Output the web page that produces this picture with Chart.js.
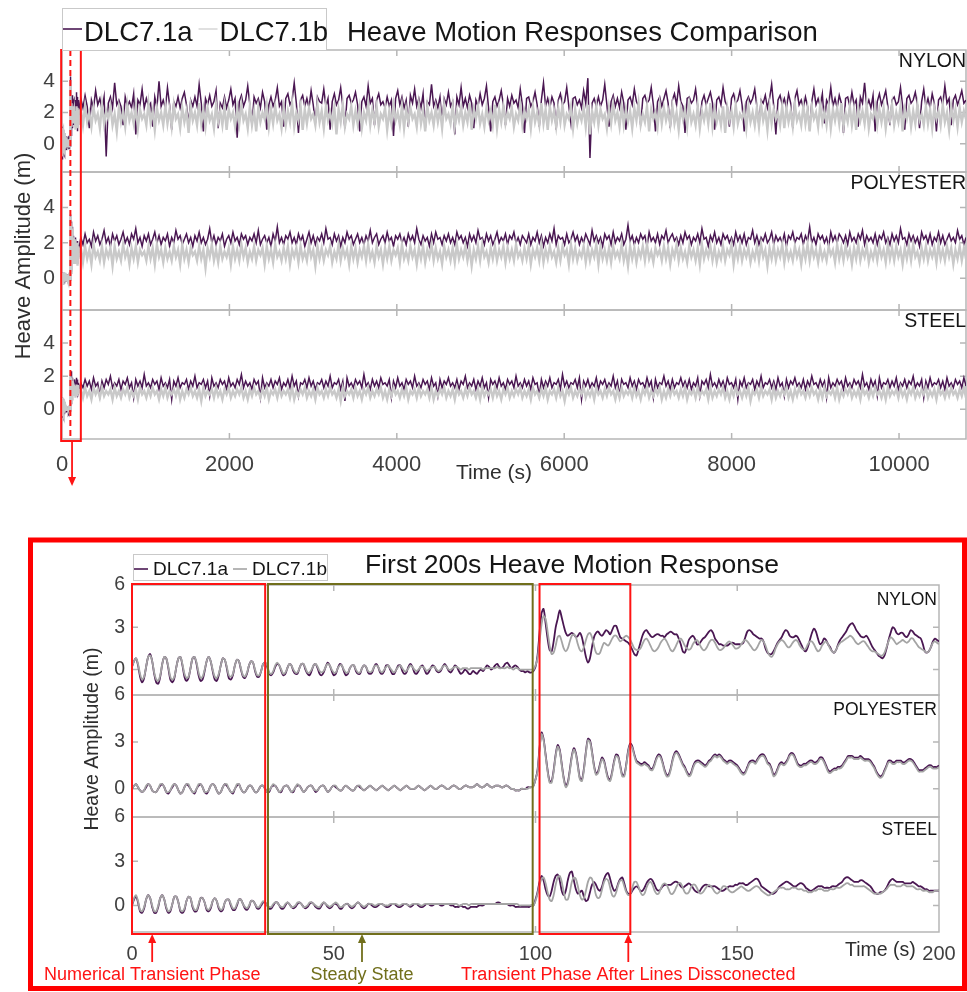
<!DOCTYPE html>
<html>
<head>
<meta charset="utf-8">
<title>Heave Motion Responses Comparison</title>
<script src="https://cdn.jsdelivr.net/npm/chart.js@4.4.1/dist/chart.umd.min.js"></script>
<style>
  html, body { margin: 0; padding: 0; background: #fff; }
  body { width: 967px; height: 992px; position: relative; overflow: hidden; }
  canvas { position: absolute; left: 0; }
  #longChart { top: 0; }
  #zoomChart { top: 530px; }
</style>
</head>
<body>
<canvas id="longChart" width="967" height="500"></canvas>
<canvas id="zoomChart" width="967" height="462"></canvas>
<script>
// ---------------------------------------------------------------------------
// Heave amplitude (m). First 200 s sampled every 0.5 s, split at t = 100 s.
// "_EARLY" = t 0 .. 100 s (201 samples), "_LATE" = t 100.5 .. 200 s (200 samples)
// ---------------------------------------------------------------------------
const MATERIALS = ['NYLON', 'POLYESTER', 'STEEL'];
const CASES = ['DLC7.1a', 'DLC7.1b'];

const NYLON_A_EARLY = [
  0.2, 0.6, 0.8, 0.3, -0.5, -0.9, -0.6, 0.2, 0.9, 1.1,
  0.6, -0.3, -0.9, -1.0, -0.5, 0.4, 0.9, 0.8, 0.1, -0.7,
  -0.9, -0.6, 0.2, 0.8, 0.9, 0.3, -0.5, -0.8, -0.6, 0.1,
  0.8, 0.9, 0.4, -0.4, -0.8, -0.7, -0.1, 0.6, 0.9, 0.6,
  -0.1, -0.7, -0.8, -0.4, 0.3, 0.8, 0.7, 0.1, -0.6, -0.7,
  -0.4, 0.3, 0.7, 0.6, 0.0, -0.5, -0.6, -0.3, 0.3, 0.6,
  0.5, -0.1, -0.5, -0.5, -0.1, 0.4, 0.5, 0.2, -0.3, -0.4,
  -0.2, 0.2, 0.4, 0.3, -0.1, -0.4, -0.3, 0.1, 0.4, 0.3,
  -0.1, -0.3, -0.3, 0.1, 0.4, 0.4, 0.0, -0.3, -0.4, -0.1,
  0.3, 0.4, 0.1, -0.3, -0.4, -0.2, 0.2, 0.5, 0.3, -0.1,
  -0.4, -0.3, 0.1, 0.4, 0.3, -0.1, -0.4, -0.3, 0.1, 0.3,
  0.3, -0.1, -0.3, -0.3, 0.1, 0.3, 0.2, -0.2, -0.3, -0.2,
  0.2, 0.4, 0.2, -0.2, -0.3, -0.1, 0.3, 0.3, 0.0, -0.3,
  -0.3, 0.0, 0.3, 0.3, -0.1, -0.3, -0.2, 0.2, 0.4, 0.2,
  -0.2, -0.3, -0.1, 0.2, 0.3, 0.0, -0.3, -0.2, 0.1, 0.3,
  0.2, -0.1, -0.2, -0.1, 0.2, 0.4, 0.2, -0.1, -0.2, 0.0,
  0.3, 0.2, -0.1, -0.3, -0.2, 0.0, -0.1, -0.3, -0.3, -0.1,
  -0.2, -0.3, -0.1, 0.0, -0.1, 0.1, 0.3, 0.2, 0.0, 0.1,
  0.3, 0.4, 0.2, 0.1, 0.2, 0.4, 0.5, 0.3, 0.1, 0.2,
  0.3, 0.2, 0.0, -0.1, -0.1, -0.2, -0.1, -0.2, -0.2, -0.1,
  0.2
];
const NYLON_A_LATE = [
  1.0, 2.6, 4.0, 4.3, 3.3, 2.2, 1.4, 1.3, 2.0, 3.0,
  3.6, 4.2, 3.7, 3.1, 2.6, 2.4, 2.5, 2.6, 2.5, 2.3,
  2.4, 2.6, 2.3, 1.6, 0.9, 0.5, 0.8, 1.6, 2.3, 2.6,
  2.7, 2.5, 2.4, 2.6, 2.8, 2.7, 2.5, 2.8, 3.1, 3.1,
  2.7, 2.3, 2.2, 2.1, 2.0, 1.9, 1.7, 1.4, 1.1, 1.0,
  1.4, 1.9, 2.4, 2.7, 2.8, 2.6, 2.4, 2.3, 2.4, 2.5,
  2.5, 2.4, 2.4, 2.3, 2.5, 2.6, 2.7, 2.6, 2.5, 2.5,
  2.2, 1.8, 1.3, 1.2, 1.6, 2.1, 2.3, 2.4, 2.2, 1.8,
  1.8, 2.0, 2.2, 2.3, 2.5, 2.7, 2.8, 2.6, 2.2, 2.0,
  1.8, 1.8, 1.7, 1.7, 1.7, 1.8, 1.9, 1.9, 1.8, 1.8,
  1.8, 1.8, 1.9, 2.3, 2.7, 2.8, 2.7, 2.5, 2.4, 2.3,
  2.2, 2.2, 2.0, 1.5, 1.2, 1.1, 1.1, 1.3, 1.6, 1.9,
  2.1, 2.3, 2.6, 2.8, 2.7, 2.4, 2.3, 2.3, 2.4, 2.3,
  2.0, 1.7, 1.4, 1.3, 1.6, 2.1, 2.6, 2.9, 2.7, 2.2,
  1.8, 1.9, 2.2, 2.1, 1.8, 1.6, 1.3, 1.2, 1.4, 1.8,
  2.1, 2.3, 2.5, 2.7, 3.0, 3.2, 3.3, 3.1, 2.8, 2.6,
  2.4, 2.3, 2.3, 2.4, 2.2, 1.9, 1.6, 1.4, 1.2, 1.0,
  0.9, 0.8, 1.0, 1.5, 2.1, 2.6, 3.0, 2.9, 2.6, 2.5,
  2.6, 2.6, 2.4, 2.3, 2.5, 2.8, 2.7, 2.5, 2.4, 2.3,
  2.2, 1.8, 1.3, 1.2, 1.3, 1.6, 2.0, 2.2, 2.1, 2.0
];
const NYLON_B_EARLY = [
  0.2, 0.6, 0.8, 0.4, -0.3, -0.7, -0.5, 0.2, 0.9, 1.0,
  0.6, -0.2, -0.7, -0.8, -0.4, 0.4, 0.9, 0.8, 0.2, -0.5,
  -0.7, -0.5, 0.2, 0.8, 0.9, 0.4, -0.3, -0.6, -0.5, 0.1,
  0.8, 0.9, 0.5, -0.2, -0.6, -0.5, 0.0, 0.6, 0.9, 0.6,
  0.0, -0.5, -0.6, -0.3, 0.3, 0.8, 0.7, 0.2, -0.4, -0.5,
  -0.3, 0.3, 0.7, 0.6, 0.1, -0.4, -0.5, -0.2, 0.3, 0.6,
  0.5, 0.0, -0.4, -0.4, -0.1, 0.4, 0.5, 0.3, -0.2, -0.3,
  -0.1, 0.3, 0.5, 0.3, 0.0, -0.3, -0.2, 0.1, 0.4, 0.3,
  0.0, -0.2, -0.2, 0.1, 0.4, 0.4, 0.1, -0.2, -0.2, 0.0,
  0.3, 0.4, 0.2, -0.1, -0.2, -0.1, 0.2, 0.4, 0.3, 0.0,
  -0.2, -0.2, 0.1, 0.3, 0.3, 0.0, -0.2, -0.2, 0.1, 0.3,
  0.3, 0.0, -0.2, -0.2, 0.1, 0.3, 0.2, -0.1, -0.2, -0.1,
  0.2, 0.3, 0.2, -0.1, -0.2, 0.0, 0.2, 0.3, 0.1, -0.1,
  -0.2, 0.0, 0.2, 0.3, 0.1, -0.1, -0.1, 0.1, 0.3, 0.2,
  0.0, -0.1, 0.0, 0.2, 0.2, 0.1, -0.1, 0.0, 0.1, 0.2,
  0.2, 0.0, -0.1, 0.0, 0.2, 0.3, 0.2, 0.0, 0.0, 0.1,
  0.2, 0.2, 0.1, 0.0, 0.1, 0.1, 0.1, 0.0, 0.1, 0.1,
  0.1, 0.1, 0.1, 0.1, 0.0, 0.1, 0.1, 0.1, 0.1, 0.1,
  0.1, 0.2, 0.1, 0.1, 0.1, 0.1, 0.2, 0.1, 0.1, 0.0,
  0.1, 0.1, 0.0, 0.0, 0.0, 0.0, 0.0, 0.0, 0.0, 0.0,
  0.3
];
const NYLON_B_LATE = [
  0.8, 2.0, 3.2, 3.8, 3.6, 2.7, 1.7, 1.1, 1.2, 1.7,
  2.3, 2.4, 2.0, 1.5, 1.3, 1.5, 2.0, 2.4, 2.5, 2.3,
  1.8, 1.4, 1.3, 1.6, 2.1, 2.5, 2.6, 2.3, 1.7, 1.2,
  1.1, 1.2, 1.6, 1.9, 1.8, 1.7, 1.9, 2.2, 2.4, 2.4,
  2.2, 2.0, 2.1, 2.3, 2.4, 2.3, 2.1, 1.8, 1.5, 1.4,
  1.4, 1.5, 1.8, 2.1, 2.2, 2.0, 1.7, 1.4, 1.3, 1.4,
  1.6, 1.9, 2.1, 2.2, 2.0, 1.7, 1.4, 1.3, 1.5, 1.8,
  2.1, 2.2, 2.0, 1.7, 1.5, 1.4, 1.5, 1.8, 2.0, 2.1,
  1.9, 1.6, 1.4, 1.4, 1.6, 1.9, 2.1, 2.1, 1.9, 1.6,
  1.4, 1.4, 1.5, 1.7, 1.9, 2.0, 1.9, 1.7, 1.5, 1.5,
  1.6, 1.8, 2.0, 2.1, 2.0, 1.8, 1.6, 1.4, 1.4, 1.6,
  1.9, 2.1, 2.0, 1.7, 1.3, 1.0, 0.9, 1.1, 1.5, 1.8,
  2.0, 2.1, 2.0, 1.8, 1.6, 1.6, 1.8, 2.0, 2.1, 2.0,
  1.7, 1.5, 1.4, 1.5, 1.8, 2.0, 2.0, 1.8, 1.5, 1.3,
  1.4, 1.7, 1.9, 2.0, 1.8, 1.5, 1.3, 1.2, 1.4, 1.7,
  1.9, 2.0, 2.1, 2.2, 2.3, 2.4, 2.3, 2.1, 1.9, 1.8,
  1.9, 2.0, 2.0, 1.8, 1.6, 1.4, 1.3, 1.3, 1.2, 1.1,
  1.0, 1.0, 1.2, 1.6, 2.0, 2.3, 2.2, 2.0, 1.8, 1.9,
  2.0, 2.1, 2.0, 1.9, 2.0, 2.2, 2.2, 2.0, 1.8, 1.6,
  1.5, 1.4, 1.3, 1.2, 1.3, 1.6, 1.9, 2.0, 1.9, 1.8
];
const POLY_A_EARLY = [
  0.0, 0.2, 0.3, 0.1, -0.1, -0.2, -0.1, 0.1, 0.3, 0.2,
  -0.1, -0.2, -0.2, 0.0, 0.2, 0.3, 0.1, -0.2, -0.3, -0.1,
  0.1, 0.3, 0.2, -0.1, -0.3, -0.2, 0.1, 0.3, 0.2, 0.0,
  -0.2, -0.3, 0.0, 0.2, 0.3, 0.1, -0.2, -0.3, -0.1, 0.2,
  0.3, 0.2, -0.1, -0.3, -0.2, 0.1, 0.3, 0.2, 0.0, -0.2,
  -0.3, 0.0, 0.2, 0.3, 0.0, -0.2, -0.2, 0.0, 0.2, 0.2,
  0.0, -0.2, -0.2, 0.0, 0.2, 0.2, 0.0, -0.2, -0.2, 0.1,
  0.2, 0.2, 0.0, -0.2, -0.2, 0.1, 0.2, 0.2, 0.0, -0.2,
  -0.2, 0.1, 0.2, 0.2, 0.0, -0.2, -0.1, 0.1, 0.2, 0.2,
  0.0, -0.2, -0.1, 0.1, 0.2, 0.2, 0.0, -0.2, -0.1, 0.1,
  0.2, 0.1, 0.0, -0.1, -0.1, 0.1, 0.2, 0.1, 0.0, -0.1,
  -0.1, 0.1, 0.2, 0.1, 0.0, -0.1, 0.0, 0.1, 0.2, 0.1,
  0.0, -0.1, 0.0, 0.1, 0.2, 0.1, 0.0, -0.1, 0.0, 0.1,
  0.2, 0.1, 0.0, -0.1, 0.0, 0.1, 0.2, 0.1, 0.0, 0.0,
  0.0, 0.1, 0.2, 0.1, 0.0, -0.1, 0.0, 0.1, 0.2, 0.1,
  0.0, 0.0, 0.1, 0.2, 0.2, 0.1, 0.0, 0.0, 0.1, 0.2,
  0.2, 0.1, 0.0, 0.0, 0.1, 0.2, 0.2, 0.1, 0.1, 0.1,
  0.2, 0.3, 0.2, 0.1, 0.1, 0.2, 0.3, 0.2, 0.1, 0.1,
  0.2, 0.2, 0.2, 0.1, 0.1, 0.2, 0.2, 0.1, 0.0, 0.0,
  -0.1, -0.1, -0.1, 0.0, 0.0, 0.0, 0.1, 0.1, 0.1, 0.2,
  0.6
];
const POLY_A_LATE = [
  1.2, 2.6, 3.6, 3.2, 2.2, 1.2, 0.5, 0.5, 1.2, 2.2,
  2.8, 2.5, 1.6, 0.7, 0.2, 0.4, 1.2, 2.1, 2.6, 2.3,
  1.5, 0.7, 0.6, 1.3, 2.4, 3.2, 3.1, 2.4, 1.5, 1.0,
  1.1, 1.6, 2.0, 1.8, 1.2, 0.7, 0.6, 1.1, 1.8, 2.2,
  2.1, 1.5, 0.9, 0.9, 1.6, 2.5, 2.9, 2.7, 2.2, 1.8,
  1.7, 1.6, 1.6, 1.7, 1.6, 1.5, 1.3, 1.3, 1.6, 2.0,
  2.2, 2.1, 1.7, 1.2, 0.9, 0.9, 1.3, 1.9, 2.3, 2.4,
  2.2, 1.9, 1.6, 1.4, 1.1, 0.9, 1.0, 1.4, 1.7, 1.8,
  1.8, 1.7, 1.6, 1.5, 1.6, 1.8, 1.9, 2.1, 2.2, 2.1,
  2.2, 2.1, 1.9, 1.8, 1.7, 1.8, 1.8, 1.7, 1.6, 1.5,
  1.3, 1.1, 1.0, 1.1, 1.4, 1.7, 1.8, 1.8, 1.7, 1.9,
  2.1, 2.2, 2.2, 2.0, 1.7, 1.6, 1.3, 0.9, 1.0, 1.3,
  1.6, 1.7, 1.6, 1.7, 1.9, 2.2, 2.3, 2.2, 1.9, 1.6,
  1.5, 1.5, 1.6, 1.6, 1.7, 1.8, 1.8, 1.7, 1.7, 1.8,
  2.0, 2.0, 1.8, 1.5, 1.2, 1.1, 1.2, 1.3, 1.3, 1.4,
  1.4, 1.5, 1.7, 1.9, 2.1, 2.1, 2.1, 2.0, 2.0, 2.0,
  2.1, 2.0, 1.9, 1.9, 1.9, 1.8, 1.6, 1.4, 1.1, 0.9,
  0.8, 0.9, 1.2, 1.5, 1.8, 1.8, 1.7, 1.7, 1.8, 1.8,
  1.8, 1.7, 1.7, 1.8, 1.9, 1.9, 1.8, 1.6, 1.4, 1.2,
  1.2, 1.2, 1.3, 1.4, 1.5, 1.5, 1.4, 1.4, 1.4, 1.5
];
const POLY_B_EARLY = [
  0.0, 0.2, 0.3, 0.1, -0.1, -0.2, -0.1, 0.2, 0.3, 0.2,
  -0.1, -0.2, -0.2, 0.0, 0.3, 0.3, 0.1, -0.2, -0.2, -0.1,
  0.2, 0.3, 0.2, -0.1, -0.3, -0.2, 0.1, 0.3, 0.3, 0.0,
  -0.2, -0.2, 0.0, 0.3, 0.3, 0.1, -0.2, -0.2, -0.1, 0.2,
  0.3, 0.2, -0.1, -0.3, -0.2, 0.1, 0.3, 0.3, 0.0, -0.2,
  -0.2, 0.0, 0.3, 0.3, 0.0, -0.2, -0.2, 0.0, 0.2, 0.2,
  0.0, -0.2, -0.2, 0.0, 0.2, 0.2, 0.0, -0.2, -0.1, 0.1,
  0.3, 0.2, 0.0, -0.2, -0.1, 0.1, 0.2, 0.2, 0.0, -0.2,
  -0.1, 0.1, 0.3, 0.2, 0.0, -0.2, -0.1, 0.1, 0.2, 0.2,
  0.0, -0.1, -0.1, 0.1, 0.2, 0.2, 0.0, -0.2, -0.1, 0.1,
  0.2, 0.2, 0.0, -0.1, -0.1, 0.1, 0.2, 0.1, 0.0, -0.1,
  -0.1, 0.1, 0.2, 0.2, 0.0, -0.1, 0.0, 0.1, 0.2, 0.1,
  0.0, -0.1, 0.0, 0.1, 0.2, 0.1, 0.0, -0.1, 0.0, 0.1,
  0.2, 0.1, 0.0, -0.1, 0.0, 0.1, 0.2, 0.1, 0.0, 0.0,
  0.0, 0.1, 0.2, 0.1, 0.0, -0.1, 0.0, 0.1, 0.2, 0.1,
  0.0, 0.0, 0.1, 0.2, 0.2, 0.1, 0.0, 0.0, 0.1, 0.2,
  0.2, 0.1, 0.0, 0.0, 0.1, 0.2, 0.2, 0.1, 0.1, 0.1,
  0.2, 0.3, 0.2, 0.1, 0.1, 0.2, 0.3, 0.2, 0.1, 0.1,
  0.2, 0.2, 0.2, 0.1, 0.1, 0.2, 0.2, 0.1, 0.0, 0.0,
  -0.1, -0.1, -0.1, 0.0, 0.0, 0.0, 0.0, 0.1, 0.1, 0.2,
  0.6
];
const POLY_B_LATE = [
  1.1, 2.5, 3.5, 3.1, 2.1, 1.1, 0.4, 0.4, 1.1, 2.1,
  2.7, 2.4, 1.5, 0.6, 0.1, 0.3, 1.1, 2.0, 2.5, 2.2,
  1.4, 0.6, 0.5, 1.2, 2.3, 3.1, 3.0, 2.3, 1.4, 0.9,
  1.0, 1.5, 1.9, 1.7, 1.1, 0.6, 0.5, 1.0, 1.7, 2.1,
  2.0, 1.4, 0.8, 0.8, 1.5, 2.4, 2.8, 2.6, 2.1, 1.7,
  1.6, 1.5, 1.5, 1.6, 1.5, 1.4, 1.2, 1.2, 1.5, 1.9,
  2.1, 2.0, 1.6, 1.1, 0.8, 0.8, 1.2, 1.8, 2.2, 2.3,
  2.1, 1.8, 1.5, 1.3, 1.0, 0.8, 0.9, 1.3, 1.6, 1.7,
  1.7, 1.6, 1.5, 1.4, 1.5, 1.7, 1.8, 2.0, 2.1, 2.0,
  2.1, 2.0, 1.8, 1.7, 1.6, 1.7, 1.7, 1.6, 1.5, 1.4,
  1.2, 1.0, 0.9, 1.0, 1.3, 1.6, 1.7, 1.7, 1.6, 1.8,
  2.0, 2.1, 2.1, 1.9, 1.6, 1.5, 1.2, 0.8, 0.9, 1.2,
  1.5, 1.6, 1.5, 1.6, 1.8, 2.1, 2.2, 2.1, 1.8, 1.5,
  1.4, 1.4, 1.5, 1.5, 1.6, 1.7, 1.7, 1.6, 1.6, 1.7,
  1.9, 1.9, 1.7, 1.4, 1.1, 1.0, 1.1, 1.2, 1.2, 1.3,
  1.3, 1.4, 1.6, 1.8, 2.0, 2.0, 2.0, 1.9, 1.9, 1.9,
  2.0, 1.9, 1.8, 1.8, 1.8, 1.7, 1.5, 1.3, 1.0, 0.8,
  0.7, 0.8, 1.1, 1.4, 1.7, 1.7, 1.6, 1.6, 1.7, 1.7,
  1.7, 1.6, 1.6, 1.7, 1.8, 1.8, 1.7, 1.5, 1.3, 1.1,
  1.1, 1.1, 1.2, 1.3, 1.4, 1.4, 1.3, 1.3, 1.3, 1.4
];
const STEEL_A_EARLY = [
  0.0, 0.4, 0.6, 0.2, -0.4, -0.5, -0.2, 0.4, 0.7, 0.5,
  -0.1, -0.5, -0.5, -0.1, 0.5, 0.7, 0.4, -0.2, -0.5, -0.4,
  0.1, 0.6, 0.6, 0.2, -0.4, -0.5, -0.3, 0.3, 0.6, 0.5,
  -0.1, -0.4, -0.4, 0.0, 0.5, 0.5, 0.2, -0.3, -0.4, -0.2,
  0.3, 0.5, 0.3, -0.2, -0.4, -0.3, 0.2, 0.4, 0.4, 0.0,
  -0.3, -0.3, 0.0, 0.4, 0.4, 0.1, -0.2, -0.3, -0.1, 0.3,
  0.3, 0.1, -0.2, -0.2, 0.0, 0.2, 0.2, 0.0, -0.2, -0.2,
  0.0, 0.2, 0.2, 0.0, -0.2, -0.2, 0.0, 0.2, 0.1, -0.1,
  -0.2, -0.1, 0.1, 0.2, 0.1, -0.1, -0.2, -0.1, 0.1, 0.2,
  0.1, -0.1, -0.2, -0.2, 0.0, 0.2, 0.1, -0.1, -0.2, -0.1,
  0.1, 0.1, 0.0, -0.2, -0.2, 0.0, 0.1, 0.1, -0.1, -0.2,
  -0.1, 0.1, 0.2, 0.1, -0.1, -0.2, -0.1, 0.1, 0.1, 0.0,
  -0.1, -0.1, 0.0, 0.1, 0.1, 0.0, -0.1, -0.1, 0.0, 0.1,
  0.1, 0.0, -0.1, -0.1, 0.0, 0.1, 0.1, 0.0, -0.1, 0.0,
  0.1, 0.1, 0.0, -0.1, -0.1, 0.0, 0.1, 0.1, 0.0, 0.0,
  0.1, 0.1, 0.1, 0.0, 0.0, 0.1, 0.1, 0.1, 0.0, 0.0,
  -0.1, -0.1, -0.1, 0.0, -0.1, -0.1, -0.2, -0.2, -0.1, -0.1,
  -0.1, -0.1, 0.0, 0.0, 0.0, 0.1, 0.1, 0.1, 0.1, 0.1,
  0.1, 0.2, 0.2, 0.1, 0.1, 0.1, 0.1, 0.0, 0.0, 0.0,
  -0.1, -0.1, -0.1, -0.1, -0.1, -0.1, -0.1, -0.1, 0.0, 0.0,
  0.4
];
const STEEL_A_LATE = [
  0.9, 1.6, 2.0, 1.7, 1.1, 0.7, 0.6, 1.0, 1.6, 2.0,
  2.1, 1.7, 1.0, 0.7, 1.0, 1.7, 2.2, 2.3, 1.7, 1.1,
  0.8, 0.9, 1.0, 0.6, 0.3, 0.4, 0.9, 1.4, 1.6, 1.4,
  1.1, 1.0, 1.3, 1.8, 2.1, 2.2, 1.8, 1.3, 1.0, 1.1,
  1.5, 1.8, 1.9, 1.5, 1.0, 0.8, 0.8, 1.0, 1.2, 1.3,
  1.2, 1.0, 1.0, 1.2, 1.5, 1.7, 1.8, 1.7, 1.4, 1.1,
  1.0, 1.1, 1.3, 1.4, 1.4, 1.4, 1.4, 1.5, 1.6, 1.6,
  1.5, 1.3, 1.2, 1.3, 1.4, 1.5, 1.4, 1.2, 1.0, 0.9,
  0.9, 1.1, 1.3, 1.4, 1.4, 1.3, 1.3, 1.3, 1.3, 1.2,
  1.1, 1.0, 1.0, 1.1, 1.2, 1.3, 1.3, 1.3, 1.4, 1.4,
  1.5, 1.5, 1.5, 1.4, 1.4, 1.5, 1.6, 1.7, 1.8, 1.8,
  1.6, 1.3, 1.2, 1.1, 1.0, 0.9, 0.8, 0.8, 0.9, 1.1,
  1.3, 1.4, 1.5, 1.6, 1.6, 1.5, 1.4, 1.3, 1.3, 1.4,
  1.5, 1.5, 1.4, 1.2, 1.1, 1.0, 1.0, 1.1, 1.2, 1.3,
  1.3, 1.3, 1.2, 1.2, 1.2, 1.2, 1.3, 1.3, 1.3, 1.4,
  1.5, 1.6, 1.8, 1.9, 1.9, 1.8, 1.7, 1.6, 1.6, 1.6,
  1.7, 1.7, 1.6, 1.5, 1.4, 1.3, 1.1, 0.9, 0.8, 0.8,
  0.9, 0.9, 1.0, 1.2, 1.5, 1.7, 1.8, 1.7, 1.6, 1.6,
  1.6, 1.6, 1.5, 1.5, 1.5, 1.5, 1.6, 1.5, 1.4, 1.3,
  1.3, 1.2, 1.1, 1.1, 1.0, 1.0, 1.0, 1.0, 1.0, 1.0
];
const STEEL_B_EARLY = [
  0.0, 0.5, 0.7, 0.3, -0.3, -0.4, -0.1, 0.4, 0.7, 0.5,
  0.0, -0.4, -0.4, 0.0, 0.5, 0.7, 0.4, -0.1, -0.4, -0.3,
  0.1, 0.6, 0.6, 0.2, -0.3, -0.4, -0.2, 0.3, 0.6, 0.5,
  0.0, -0.3, -0.3, 0.1, 0.5, 0.5, 0.2, -0.2, -0.3, -0.1,
  0.3, 0.5, 0.3, -0.1, -0.3, -0.2, 0.2, 0.4, 0.4, 0.1,
  -0.2, -0.2, 0.1, 0.4, 0.4, 0.1, -0.1, -0.2, 0.0, 0.3,
  0.3, 0.1, -0.1, -0.1, 0.1, 0.3, 0.2, 0.0, -0.1, -0.1,
  0.1, 0.2, 0.2, 0.0, -0.1, -0.1, 0.1, 0.2, 0.1, -0.1,
  -0.1, 0.0, 0.2, 0.2, 0.1, -0.1, -0.1, 0.0, 0.2, 0.2,
  0.1, 0.0, -0.1, -0.1, 0.1, 0.2, 0.1, 0.0, -0.1, 0.0,
  0.1, 0.2, 0.1, -0.1, -0.1, 0.0, 0.1, 0.1, 0.0, -0.1,
  0.0, 0.1, 0.2, 0.1, 0.0, -0.1, 0.0, 0.1, 0.1, 0.1,
  0.0, 0.0, 0.1, 0.1, 0.1, 0.0, 0.0, 0.0, 0.1, 0.1,
  0.1, 0.1, 0.0, 0.0, 0.1, 0.1, 0.1, 0.0, 0.0, 0.1,
  0.1, 0.1, 0.1, 0.0, 0.0, 0.1, 0.1, 0.1, 0.1, 0.1,
  0.1, 0.1, 0.1, 0.1, 0.1, 0.1, 0.1, 0.1, 0.1, 0.1,
  0.1, 0.1, 0.0, 0.0, 0.1, 0.1, 0.1, 0.0, 0.1, 0.1,
  0.1, 0.1, 0.1, 0.1, 0.1, 0.1, 0.1, 0.1, 0.1, 0.1,
  0.1, 0.1, 0.1, 0.1, 0.1, 0.1, 0.1, 0.1, 0.1, 0.1,
  0.1, 0.1, 0.0, 0.0, 0.0, 0.0, 0.0, 0.0, 0.0, 0.0,
  0.3
];
const STEEL_B_LATE = [
  0.8, 1.4, 1.8, 1.9, 1.5, 0.9, 0.4, 0.3, 0.7, 1.4,
  1.9, 2.0, 1.6, 0.9, 0.4, 0.4, 0.9, 1.6, 1.9, 1.8,
  1.3, 0.7, 0.4, 0.5, 1.0, 1.6, 1.9, 1.8, 1.3, 0.7,
  0.5, 0.6, 1.1, 1.6, 1.8, 1.7, 1.2, 0.7, 0.6, 0.9,
  1.4, 1.7, 1.7, 1.3, 0.9, 0.7, 0.8, 1.2, 1.6, 1.6,
  1.3, 0.9, 0.7, 0.8, 1.2, 1.5, 1.6, 1.4, 1.0, 0.8,
  0.8, 1.1, 1.4, 1.5, 1.4, 1.1, 0.8, 0.8, 1.0, 1.3,
  1.5, 1.5, 1.2, 0.9, 0.8, 0.9, 1.2, 1.4, 1.4, 1.2,
  0.9, 0.8, 0.9, 1.1, 1.3, 1.4, 1.3, 1.1, 0.9, 0.8,
  0.9, 1.1, 1.3, 1.3, 1.2, 1.0, 0.9, 0.9, 1.0, 1.1,
  1.2, 1.3, 1.2, 1.1, 1.0, 1.0, 1.1, 1.2, 1.3, 1.3,
  1.2, 1.0, 0.9, 0.8, 0.7, 0.7, 0.8, 0.9, 1.0, 1.1,
  1.2, 1.2, 1.2, 1.1, 1.1, 1.1, 1.2, 1.2, 1.2, 1.1,
  1.1, 1.1, 1.0, 1.0, 0.9, 0.9, 0.9, 1.0, 1.0, 1.1,
  1.1, 1.1, 1.0, 1.0, 1.0, 1.1, 1.1, 1.1, 1.2, 1.2,
  1.2, 1.3, 1.4, 1.5, 1.5, 1.4, 1.4, 1.3, 1.3, 1.3,
  1.3, 1.3, 1.3, 1.2, 1.1, 1.0, 0.9, 0.8, 0.8, 0.8,
  0.8, 0.9, 1.0, 1.1, 1.3, 1.4, 1.4, 1.4, 1.3, 1.3,
  1.3, 1.4, 1.4, 1.3, 1.3, 1.3, 1.3, 1.2, 1.1, 1.1,
  1.1, 1.0, 1.0, 1.0, 0.9, 0.9, 0.9, 1.0, 1.0, 1.0
];

// Remainder of the 3-hour record (after 200 s), evenly spaced up to 10800 s.
const NYLON_A_LONG = [
  2.9,2.3,3.1,2.4,1.0,2.8,2.3,3.4,2.5,2.9,2.2,3.0,-0.8,2.6,3.0,2.3,3.9,2.5,2.8,2.4,
  1.2,3.0,2.4,2.7,2.3,3.2,0.6,2.8,2.5,3.5,2.3,2.9,2.4,2.6,1.1,3.0,2.3,4.0,2.4,2.8,
  2.3,3.6,2.5,0.9,2.7,2.4,3.0,2.3,2.9,3.3,2.5,1.3,2.8,2.4,3.0,2.4,3.8,2.6,0.8,2.9,
  2.5,3.1,2.4,2.7,3.4,1.0,2.6,2.3,3.0,2.3,2.8,3.5,2.5,2.9,0.4,2.7,3.1,2.4,2.8,3.7,
  2.5,1.2,3.0,2.6,2.9,2.3,3.3,2.7,0.9,2.5,3.0,2.4,2.8,3.6,2.4,2.7,1.1,2.9,3.2,2.5,
  2.8,3.9,2.6,0.7,2.8,3.1,2.4,2.9,2.3,3.4,2.5,1.3,3.0,2.7,2.6,3.5,2.4,2.9,0.9,2.7,
  3.2,2.5,2.8,3.6,2.4,1.0,2.9,3.1,2.6,2.8,3.3,2.5,0.8,2.7,3.0,2.4,3.7,2.6,2.9,1.2,
  2.8,3.2,2.5,2.7,2.3,3.0,2.4,2.8,0.5,2.9,3.4,2.5,3.0,2.3,2.8,1.1,3.1,2.6,3.5,2.4,
  2.9,2.3,3.2,0.9,2.7,2.5,3.8,2.4,2.8,2.3,3.0,1.4,2.9,2.5,3.3,2.4,2.7,0.6,3.0,2.5,
  3.6,2.4,2.9,2.3,3.1,2.6,1.0,2.8,2.4,3.2,2.5,2.9,3.7,2.3,0.8,2.7,3.0,2.4,2.8,3.4,
  2.5,1.2,2.9,2.4,3.1,2.6,2.8,2.3,3.5,2.5,0.7,2.9,3.0,2.4,2.7,3.3,2.5,1.1,2.8,3.9,
  2.4,2.9,2.3,3.0,2.6,0.9,2.8,3.2,2.5,2.7,3.6,2.4,1.3,2.9,3.0,2.5,2.8,2.3,3.4,2.6,
  4.2,-0.9,2.6,2.9,2.4,3.0,2.4,2.8,3.8,2.5,1.1,2.7,3.1,2.4,2.9,2.3,3.3,2.6,0.9,2.8,
  3.0,2.5,3.5,2.7,2.4,1.2,2.9,3.1,2.6,2.8,3.6,2.5,0.8,2.7,3.0,2.4,2.9,3.4,2.6,1.0,
  2.8,3.2,2.5,3.7,2.7,2.4,0.7,2.9,3.0,2.6,2.8,3.5,2.4,1.3,2.7,3.1,2.5,2.9,3.3,2.6,
  0.9,2.8,3.0,2.5,3.6,2.7,2.4,1.1,2.9,3.2,2.6,2.8,3.4,2.5,0.8,2.7,3.0,2.6,2.9,3.5,
  2.4,1.2,2.8,2.6,3.1,2.3,2.9,3.8,2.4,0.6,2.8,3.1,2.5,2.9,2.3,3.2,2.6,1.0,2.9,3.4,
  2.5,2.8,2.3,3.0,2.4,0.9,2.7,3.5,2.5,2.9,2.4,3.2,1.3,2.8,2.5,3.6,2.4,2.9,2.3,3.1,
  2.6,0.7,2.9,3.0,2.4,3.3,2.5,2.8,1.1,3.0,2.6,3.9,2.4,2.8,2.3,3.1,0.8,2.7,3.2,2.5,
  2.9,3.4,2.4,1.2,2.8,3.0,2.5,2.7,3.6,2.4,0.9,2.9,3.1,2.6,2.8,3.3,2.5,1.0,2.7,3.5,
  2.4,2.9,2.3,3.2,2.6,0.8,2.8,3.0,2.5,3.7,2.6,2.9,1.2,2.8,3.1,2.5,2.9,3.4,2.6,2.8
];
const NYLON_B_LONG = [
  2.2,1.2,2.4,1.4,2.0,1.1,2.3,1.5,1.9,1.0,2.5,1.3,2.1,1.6,2.4,1.2,1.9,0.8,2.3,1.4,
  2.1,1.1,2.5,1.5,2.0,1.3,2.4,1.0,2.2,1.6,1.9,1.2,2.6,1.4,2.1,0.9,2.3,1.5,2.0,1.2,
  2.4,1.3,2.2,1.1,2.5,1.6,1.9,1.0,2.3,1.4,2.1,0.7,2.4,1.5,2.0,1.2,2.6,1.3,2.2,1.1,
  2.3,1.5,1.9,1.0,2.5,1.4,2.1,1.2,2.4,0.9,2.2,1.6,2.0,1.1,2.3,1.3,2.5,1.5,1.9,1.0,
  2.4,1.2,2.1,0.8,2.3,1.4,2.0,1.6,2.5,1.1,2.2,1.3,2.4,1.5,1.9,1.0,2.3,1.2,2.1,1.4,
  2.6,1.1,2.0,1.5,2.4,0.9,2.2,1.3,2.3,1.6,1.9,1.2,2.5,1.4,2.1,1.0,2.4,1.5,2.0,1.3,
  2.3,0.6,2.2,1.4,2.5,1.1,1.9,1.6,2.4,1.2,2.1,1.3,2.3,1.0,2.0,1.5,2.5,1.2,2.2,1.4,
  2.4,1.1,1.9,1.6,2.3,0.9,2.1,1.3,2.5,1.5,2.0,1.2,2.4,1.0,2.2,1.4,2.3,1.6,1.9,1.1,
  2.5,1.3,2.1,0.8,2.4,1.5,2.0,1.2,2.3,1.4,2.2,1.0,2.5,1.6,1.9,1.3,2.4,1.1,2.1,1.5,
  2.3,1.2,2.0,1.4,2.6,0.9,2.2,1.6,2.4,1.3,1.9,1.1,2.3,1.5,2.1,1.2,2.5,1.0,2.2,1.4,
  2.4,1.3,2.0,1.6,2.3,1.1,1.9,1.5,2.5,1.2,2.1,1.6,2.2,1.0,2.4,1.4,2.0,1.2,2.6,1.3,
  2.2,0.9,2.4,1.5,2.1,1.1,2.3,1.4,2.5,1.2,1.9,1.6,2.4,1.0,2.2,1.3,2.0,1.5,2.3,1.1,
  2.5,0.6,2.1,1.4,2.4,1.2,2.2,1.6,1.9,1.0,2.3,1.3,2.5,1.5,2.0,1.1,2.4,1.2,2.2,1.4,
  2.1,1.0,2.3,1.5,2.6,1.2,1.9,1.4,2.4,0.8,2.2,1.6,2.0,1.1,2.5,1.3,2.3,1.5,2.1,1.2,
  2.4,1.3,2.0,0.9,2.3,1.6,2.2,1.1,2.5,1.4,1.9,1.2,2.4,1.0,2.1,1.5,2.3,1.3,2.6,1.1,
  2.2,1.4,2.0,1.2,2.4,0.7,2.3,1.5,2.1,1.1,2.5,1.3,1.9,1.6,2.2,1.0,2.4,1.4,2.0,1.2,
  2.3,1.1,2.5,1.5,2.1,0.9,2.4,1.3,2.2,1.6,2.0,1.2,2.4,1.0,2.3,1.4,2.1,1.1,2.5,1.5,
  1.9,1.2,2.4,1.3,2.2,0.8,2.3,1.6,2.0,1.1,2.5,1.4,2.1,1.2,2.4,1.0,2.2,1.5,2.3,1.3,
  2.6,1.1,2.0,1.4,2.4,1.2,2.2,0.9,2.3,1.5,2.1,1.3,2.5,1.0,1.9,1.6,2.4,1.2,2.2,1.4,
  2.3,1.0,2.1,1.5,2.5,1.2,2.0,1.4,2.4,0.8,2.2,1.6,2.3,1.1,2.1,1.3,2.5,1.5,1.9,1.2,
  2.4,1.3,2.2,1.0,2.3,1.6,2.1,1.2,2.5,1.4,2.0,0.9,2.4,1.5,2.2,1.1,2.3,1.4,2.1,1.6
];
const POLY_A_LONG = [
  2.3,1.9,2.5,2.0,2.2,1.8,2.6,2.1,2.4,1.9,2.2,2.7,2.0,2.3,1.8,2.5,2.1,2.4,1.9,2.2,
  2.6,2.0,2.3,1.9,2.5,2.2,2.8,2.0,2.3,1.8,2.4,2.1,2.5,1.9,2.2,2.6,2.0,2.4,1.9,2.3,
  2.1,2.5,1.8,2.3,2.0,2.7,2.2,2.4,1.9,2.2,2.5,2.0,2.3,1.8,2.4,2.1,2.6,2.0,2.3,1.9,
  2.2,2.8,2.0,2.4,1.9,2.3,2.1,2.5,1.8,2.2,2.4,2.0,2.6,2.1,2.3,1.9,2.5,2.2,2.4,1.9,
  2.3,2.1,2.5,2.0,2.7,1.9,2.2,2.4,2.0,2.3,1.8,2.5,2.1,2.9,2.0,2.3,1.9,2.4,2.2,2.6,
  2.0,2.3,1.9,2.5,2.1,2.4,1.8,2.2,2.6,2.0,2.4,1.9,2.3,2.1,2.5,2.0,2.8,2.2,2.3,1.9,
  2.5,2.1,2.4,1.8,2.3,2.0,2.6,2.2,2.4,1.9,2.2,2.5,2.0,2.3,1.9,2.4,2.1,2.7,2.0,2.3,
  2.5,1.9,2.2,2.4,2.0,2.6,2.1,2.3,1.8,2.4,2.2,2.5,2.0,2.3,1.9,2.5,2.1,2.4,2.0,2.8,
  2.2,1.9,2.4,2.1,2.3,1.8,2.5,2.0,2.6,2.2,2.3,1.9,2.4,2.1,2.5,2.0,2.3,1.9,2.6,2.2,
  2.4,2.0,2.3,1.8,2.5,2.1,2.4,2.0,2.7,2.2,2.3,1.9,2.5,2.1,2.4,1.9,2.2,2.6,2.0,2.3,
  2.1,2.5,1.9,2.4,2.2,2.6,2.0,2.3,1.9,2.4,2.2,2.0,2.5,1.9,2.3,2.1,2.6,2.0,2.4,1.8,
  2.3,2.0,2.5,2.1,2.8,1.9,2.4,2.2,2.3,1.9,2.5,2.0,2.2,2.6,2.1,2.4,1.9,2.3,2.0,2.5,
  2.2,1.9,2.7,2.1,2.4,2.0,2.3,1.8,2.5,2.2,2.4,1.9,2.6,2.0,2.3,2.1,2.5,1.9,2.2,3.0,
  2.1,2.4,1.9,2.3,2.0,2.5,2.2,2.4,1.8,2.6,2.1,2.3,2.0,2.5,1.9,2.4,2.2,2.7,2.0,2.3,
  2.5,2.1,2.3,1.9,2.4,2.0,2.6,2.2,2.4,1.9,2.3,2.1,2.5,2.0,2.8,2.2,2.3,1.8,2.4,2.1,
  2.6,2.0,2.3,1.9,2.5,2.2,2.4,2.0,2.3,1.9,2.6,2.1,2.4,2.0,2.5,1.9,2.3,2.2,2.7,2.0,
  2.4,1.9,2.3,2.1,2.5,2.0,2.2,2.6,1.9,2.4,2.1,2.3,2.0,2.5,1.8,2.4,2.2,2.6,2.0,2.3,
  2.2,2.5,1.9,2.4,2.1,2.9,2.0,2.3,1.9,2.5,2.2,2.4,2.0,2.3,1.8,2.6,2.1,2.4,2.0,2.5,
  2.3,2.0,2.4,1.9,2.6,2.1,2.3,2.0,2.5,2.2,2.7,1.9,2.4,2.1,2.3,2.0,2.5,1.9,2.4,2.2,
  2.6,2.0,2.3,1.9,2.5,2.1,2.4,2.0,2.8,2.2,2.3,1.9,2.5,2.1,2.4,2.0,2.3,1.8,2.6,2.2,
  2.4,2.0,2.5,1.9,2.3,2.1,2.6,2.0,2.4,1.9,2.2,2.5,2.1,2.3,2.0,2.7,2.2,2.4,1.9,2.3
];
const POLY_B_LONG = [
  1.7,0.9,1.8,1.1,1.6,0.8,1.9,1.2,1.5,1.0,1.8,0.9,1.6,1.2,1.7,0.7,1.8,1.1,1.5,1.0,
  1.9,1.2,1.6,0.8,1.7,1.1,1.8,0.9,1.6,1.3,1.5,1.0,1.8,1.1,1.7,0.8,1.9,1.2,1.6,0.9,
  1.7,1.1,1.5,1.0,1.8,1.2,1.6,0.8,1.9,1.1,1.6,0.9,1.7,1.3,1.5,1.0,1.8,1.1,1.6,0.6,
  1.7,1.2,1.9,1.0,1.6,0.9,1.8,1.1,1.5,1.2,1.7,0.8,1.8,1.1,1.6,1.0,1.9,1.2,1.7,0.9,
  1.5,1.1,1.8,1.0,1.6,1.3,1.7,0.8,1.8,1.1,1.6,0.9,1.9,1.2,1.5,1.0,1.7,1.1,1.8,0.8,
  1.6,1.2,1.7,0.9,1.8,1.1,1.5,1.0,1.9,1.2,1.6,0.7,1.8,1.1,1.7,1.0,1.6,1.3,1.8,0.9,
  1.5,1.1,1.9,1.0,1.7,1.2,1.6,0.8,1.8,1.1,1.7,0.9,1.6,1.2,1.8,1.0,1.9,1.1,1.5,0.9,
  1.8,1.2,1.6,0.8,1.7,1.1,1.8,1.0,1.6,1.3,1.7,0.9,1.9,1.1,1.5,1.0,1.8,1.2,1.6,0.8,
  1.7,1.1,1.8,0.9,1.6,1.2,1.9,1.0,1.7,1.1,1.5,0.8,1.8,1.2,1.6,1.0,1.7,0.9,1.9,1.1,
  1.6,1.2,1.8,1.0,1.7,0.7,1.6,1.1,1.8,1.0,1.9,1.2,1.5,0.9,1.7,1.1,1.8,1.0,1.6,1.2,
  1.8,0.9,1.7,1.1,1.6,1.0,1.9,1.2,1.5,1.0,1.7,1.1,1.8,0.8,1.6,1.2,1.7,1.0,1.9,0.9,
  1.6,1.1,1.8,1.2,1.5,0.9,1.7,1.0,1.8,1.3,1.6,0.8,1.9,1.1,1.7,1.0,1.5,1.2,1.8,0.9,
  1.7,1.0,1.6,1.2,1.9,0.8,1.8,1.1,1.6,1.0,1.7,0.9,1.8,1.2,1.5,1.1,1.9,1.0,1.6,0.7,
  1.8,1.1,1.7,0.9,1.6,1.2,1.8,1.0,1.9,1.1,1.5,0.9,1.7,1.3,1.6,1.0,1.8,1.1,1.7,0.8,
  1.6,1.2,1.9,1.0,1.7,1.1,1.5,0.9,1.8,1.2,1.6,1.0,1.7,0.8,1.9,1.1,1.6,1.2,1.8,1.0,
  1.7,0.9,1.5,1.1,1.8,1.0,1.6,1.3,1.9,0.8,1.7,1.1,1.8,1.0,1.6,1.2,1.7,0.9,1.5,1.1,
  1.8,1.0,1.9,1.2,1.6,0.7,1.7,1.1,1.8,1.0,1.6,1.2,1.9,0.9,1.7,1.1,1.5,1.0,1.8,1.2,
  1.6,0.8,1.7,1.1,1.9,1.0,1.8,1.2,1.6,0.9,1.7,1.1,1.5,1.0,1.8,1.3,1.6,0.9,1.9,1.1,
  1.7,1.0,1.8,1.2,1.6,0.8,1.7,1.1,1.9,1.0,1.6,1.2,1.8,0.9,1.5,1.1,1.7,1.0,1.8,1.2,
  1.6,0.9,1.9,1.1,1.7,1.0,1.8,1.2,1.6,0.8,1.7,1.1,1.8,1.0,1.9,1.2,1.5,0.9,1.7,1.1,
  1.8,1.0,1.6,1.2,1.7,0.9,1.9,1.1,1.6,1.0,1.8,1.2,1.7,0.8,1.6,1.1,1.8,1.0,1.7,1.1
];
const STEEL_A_LONG = [
  1.6,1.3,1.8,1.4,1.7,1.2,1.9,1.4,1.6,0.8,1.7,1.3,1.8,1.5,2.0,1.3,1.6,1.4,1.8,1.2,
  1.7,1.5,1.9,1.3,1.6,0.7,1.8,1.4,1.7,1.3,2.1,1.4,1.6,1.3,1.8,1.5,1.7,1.2,1.9,1.4,
  1.6,1.3,1.8,0.6,1.7,1.4,1.9,1.3,1.6,1.5,1.8,1.2,1.7,1.4,2.0,1.3,1.6,1.5,1.8,1.3,
  1.7,0.8,1.9,1.4,1.6,1.3,1.8,1.5,1.7,1.2,1.9,1.4,1.6,1.3,1.8,1.5,2.1,1.3,1.7,1.4,
  1.6,1.2,1.8,1.5,1.7,0.7,1.9,1.3,1.6,1.4,1.8,1.3,1.7,1.5,1.9,1.2,1.6,1.4,1.8,1.3,
  2.0,1.4,1.7,0.8,1.6,1.5,1.8,1.3,1.9,1.4,1.7,1.2,1.6,1.5,1.8,1.3,1.7,1.4,2.0,1.3,
  1.6,1.5,1.8,1.2,1.7,0.5,1.9,1.4,1.6,1.3,1.8,1.5,1.7,1.3,2.1,1.4,1.6,1.2,1.8,1.4,
  1.7,1.3,1.9,1.5,1.6,1.4,1.8,0.7,1.7,1.3,1.9,1.4,1.6,1.2,1.8,1.5,1.7,1.3,2.0,1.4,
  1.6,1.3,1.8,1.5,1.7,1.2,1.9,1.4,1.6,0.8,1.8,1.3,1.7,1.5,1.9,1.4,1.6,1.3,1.8,1.2,
  1.7,1.5,2.0,1.3,1.6,1.4,1.8,1.2,1.7,1.4,1.9,1.3,1.6,0.7,1.8,1.5,1.7,1.3,1.9,1.4,
  1.6,1.2,1.8,1.5,1.7,1.3,2.0,1.4,1.6,1.3,1.8,1.4,1.7,1.2,1.9,1.5,1.6,0.8,1.8,1.3,
  1.7,1.4,1.9,1.3,1.6,1.5,1.8,1.2,2.1,1.4,1.7,1.3,1.6,1.5,1.8,1.3,1.9,0.6,1.7,1.4,
  1.8,1.3,1.6,1.4,1.9,1.2,1.7,1.5,1.8,1.3,1.6,1.4,2.0,1.3,1.7,0.8,1.8,1.5,1.6,1.3,
  1.9,1.4,1.7,1.2,1.8,1.5,1.6,1.3,1.9,1.4,1.7,0.7,1.8,1.3,1.6,1.5,2.0,1.4,1.7,1.2,
  1.8,1.3,1.6,1.5,1.9,1.4,1.7,1.3,1.8,1.2,1.6,1.4,1.9,0.8,1.7,1.5,1.8,1.3,2.1,1.4,
  1.6,1.3,1.8,1.4,1.7,1.2,1.9,1.5,1.6,1.3,1.8,0.6,1.7,1.4,1.9,1.3,1.6,1.5,1.8,1.2,
  1.7,1.4,2.0,1.3,1.6,1.5,1.8,1.3,1.7,1.2,1.9,1.4,1.6,0.8,1.8,1.3,1.7,1.5,1.9,1.4,
  1.6,1.3,1.8,1.2,1.7,1.4,2.0,1.5,1.6,1.3,1.8,1.4,1.7,0.7,1.9,1.3,1.6,1.4,1.8,1.5,
  1.7,1.2,1.9,1.4,1.6,1.3,1.8,1.5,1.7,1.3,2.1,1.4,1.6,1.2,1.8,1.4,1.7,0.8,1.9,1.3,
  1.6,1.5,1.8,1.3,1.7,1.4,1.9,1.2,1.6,1.4,1.8,1.3,1.7,1.5,2.0,1.3,1.6,1.4,1.8,0.7,
  1.7,1.3,1.9,1.4,1.6,1.5,1.8,1.3,1.7,1.2,1.9,1.4,1.6,1.3,1.8,1.5,1.7,1.3,1.9,1.4
];
const STEEL_B_LONG = [
  1.2,0.7,1.3,0.8,1.1,0.6,1.3,0.9,1.2,0.7,1.3,0.8,1.1,0.9,1.2,0.6,1.3,0.8,1.1,0.7,
  1.2,0.9,1.3,0.7,1.1,0.8,1.2,0.6,1.3,0.9,1.1,0.7,1.2,0.8,1.3,0.9,1.1,0.6,1.2,0.8,
  1.3,0.7,1.1,0.9,1.2,0.8,1.3,0.6,1.1,0.7,1.2,0.9,1.3,0.8,1.1,0.7,1.2,0.5,1.3,0.8,
  1.1,0.9,1.2,0.7,1.3,0.8,1.1,0.6,1.2,0.9,1.3,0.7,1.1,0.8,1.2,0.9,1.3,0.7,1.1,0.6,
  1.2,0.8,1.3,0.9,1.1,0.7,1.2,0.8,1.3,0.6,1.1,0.9,1.2,0.7,1.3,0.8,1.1,0.9,1.2,0.7,
  1.3,0.6,1.1,0.8,1.2,0.9,1.3,0.7,1.1,0.8,1.2,0.6,1.3,0.9,1.1,0.7,1.2,0.8,1.3,0.9,
  1.1,0.7,1.2,0.5,1.3,0.8,1.1,0.9,1.2,0.7,1.3,0.8,1.1,0.6,1.2,0.9,1.3,0.7,1.1,0.8,
  1.2,0.9,1.3,0.7,1.1,0.6,1.2,0.8,1.3,0.9,1.1,0.7,1.2,0.8,1.3,0.6,1.1,0.9,1.2,0.7,
  1.3,0.8,1.1,0.9,1.2,0.7,1.3,0.6,1.1,0.8,1.2,0.9,1.3,0.7,1.1,0.8,1.2,0.6,1.3,0.9,
  1.1,0.7,1.2,0.8,1.3,0.9,1.1,0.7,1.2,0.6,1.3,0.8,1.1,0.9,1.2,0.7,1.3,0.8,1.1,0.6,
  1.2,0.9,1.3,0.7,1.1,0.8,1.2,0.9,1.3,0.7,1.1,0.8,1.2,0.6,1.3,0.9,1.1,0.7,1.2,0.8,
  1.3,0.6,1.1,0.9,1.2,0.7,1.3,0.8,1.1,0.5,1.2,0.9,1.3,0.7,1.1,0.8,1.2,0.9,1.3,0.7,
  1.1,0.8,1.2,0.6,1.3,0.9,1.1,0.7,1.2,0.8,1.3,0.9,1.1,0.6,1.2,0.7,1.3,0.8,1.1,0.9,
  1.2,0.7,1.3,0.8,1.1,0.6,1.2,0.9,1.3,0.7,1.1,0.8,1.2,0.9,1.3,0.6,1.1,0.7,1.2,0.8,
  1.3,0.9,1.1,0.7,1.2,0.8,1.3,0.6,1.1,0.9,1.2,0.7,1.3,0.8,1.1,0.9,1.2,0.6,1.3,0.7,
  1.1,0.8,1.2,0.9,1.3,0.7,1.1,0.6,1.2,0.8,1.3,0.9,1.1,0.7,1.2,0.8,1.3,0.5,1.1,0.9,
  1.2,0.7,1.3,0.8,1.1,0.9,1.2,0.6,1.3,0.7,1.1,0.8,1.2,0.9,1.3,0.7,1.1,0.6,1.2,0.8,
  1.3,0.9,1.1,0.7,1.2,0.8,1.3,0.9,1.1,0.6,1.2,0.7,1.3,0.8,1.1,0.9,1.2,0.7,1.3,0.6,
  1.1,0.8,1.2,0.9,1.3,0.7,1.1,0.8,1.2,0.6,1.3,0.9,1.1,0.7,1.2,0.8,1.3,0.9,1.1,0.7,
  1.2,0.6,1.3,0.8,1.1,0.9,1.2,0.7,1.3,0.8,1.1,0.6,1.2,0.9,1.3,0.7,1.1,0.8,1.2,0.9,
  1.3,0.7,1.1,0.8,1.2,0.6,1.3,0.9,1.1,0.7,1.2,0.8,1.3,0.9,1.1,0.7,1.2,0.8,1.3,0.7
];

// Axis ticks
const LONG_X_TICKS = [0, 2000, 4000, 6000, 8000, 10000];
const LONG_Y_TICKS = [0, 2, 4];
const ZOOM_X_TICKS = [0, 50, 100, 150, 200];
const ZOOM_Y_TICKS = [0, 3, 6];

// Sampling of the records
const ZOOM_DT = 0.5;      // s
const ZOOM_END = 200;     // s
const LONG_END = 10800;   // s

// ---------------------------------------------------------------------------
const FONT = '"Liberation Sans", Arial, Helvetica, sans-serif';
const PURPLE = '#4a1752';
const GREY_LONG = '#c9c9c9';
const GREY_ZOOM = '#a4a4a4';
const RED = '#ff1414';
const OLIVE = '#716f1c';
const TICK_COLOR = '#404040';
const FRAME_COLOR = '#b6b6b6';
const AXES = ['yN', 'yP', 'yS'];

Chart.defaults.font.family = FONT;
const font = px => px + 'px ' + FONT;

const RECORDS = [
  {a: NYLON_A_EARLY.concat(NYLON_A_LATE), b: NYLON_B_EARLY.concat(NYLON_B_LATE), aLong: NYLON_A_LONG, bLong: NYLON_B_LONG},
  {a: POLY_A_EARLY.concat(POLY_A_LATE),   b: POLY_B_EARLY.concat(POLY_B_LATE),   aLong: POLY_A_LONG,  bLong: POLY_B_LONG},
  {a: STEEL_A_EARLY.concat(STEEL_A_LATE), b: STEEL_B_EARLY.concat(STEEL_B_LATE), aLong: STEEL_A_LONG, bLong: STEEL_B_LONG}
];

function zoomPoints(values) {
  return values.map((y, i) => ({x: i * ZOOM_DT, y}));
}
function longPoints(first, tail) {
  const step = (LONG_END - ZOOM_END) / tail.length;
  return zoomPoints(first).concat(tail.map((y, i) => ({x: ZOOM_END + (i + 1) * step, y})));
}

// --- drawing helpers for subplot frames, names, phase markers, legend, titles ---
function makeDecor(c) {
  return {
    id: 'decor',
    beforeDatasetsDraw(chart) {
      const ctx = chart.ctx, xs = chart.scales.x;
      ctx.save();
      ctx.strokeStyle = FRAME_COLOR;
      ctx.lineWidth = 1.5;
      AXES.forEach(id => {
        const ys = chart.scales[id];
        ctx.strokeRect(xs.left, ys.top, xs.right - xs.left, ys.bottom - ys.top);
        ctx.beginPath();
        c.xTicks.forEach(v => {
          const px = xs.getPixelForValue(v);
          if (px <= xs.left + 2 || px >= xs.right - 2) return;
          ctx.moveTo(px, ys.top); ctx.lineTo(px, ys.top + c.tickLen);
          ctx.moveTo(px, ys.bottom); ctx.lineTo(px, ys.bottom - c.tickLen);
        });
        c.yTicks.forEach(v => {
          const py = ys.getPixelForValue(v);
          if (py <= ys.top + 2 || py >= ys.bottom - 2) return;
          ctx.moveTo(xs.left, py); ctx.lineTo(xs.left + c.tickLen, py);
          ctx.moveTo(xs.right, py); ctx.lineTo(xs.right - c.tickLen, py);
        });
        ctx.stroke();
      });
      ctx.restore();
    },
    afterDatasetsDraw(chart) {
      const ctx = chart.ctx, xs = chart.scales.x, area = chart.chartArea;
      ctx.save();

      // material names, top-right of each subplot
      ctx.fillStyle = '#151515';
      ctx.font = c.nameFont;
      ctx.textAlign = 'right';
      ctx.textBaseline = 'middle';
      AXES.forEach((id, k) => ctx.fillText(MATERIALS[k], c.nameX, chart.scales[id].top + c.nameDy[k]));

      // phase boxes
      c.boxes.forEach(b => {
        const l = xs.getPixelForValue(b.from), r = xs.getPixelForValue(b.to);
        ctx.strokeStyle = b.color;
        ctx.lineWidth = 2;
        ctx.strokeRect(l, area.top + c.boxTop, r - l, area.bottom + 2 - area.top - c.boxTop);
      });

      // dashed time marker
      (c.dashes || []).forEach(d => {
        const px = xs.getPixelForValue(d.at);
        ctx.strokeStyle = d.color;
        ctx.lineWidth = 2;
        ctx.setLineDash([6, 4]);
        ctx.beginPath(); ctx.moveTo(px, area.top); ctx.lineTo(px, area.bottom + 2); ctx.stroke();
        ctx.setLineDash([]);
      });

      // arrows with labels
      c.arrows.forEach(a => {
        const px = xs.getPixelForValue(a.at);
        const y0 = area.bottom + a.from, tip = area.bottom + a.to;
        const dir = tip > y0 ? 1 : -1;
        ctx.strokeStyle = a.color; ctx.fillStyle = a.color;
        ctx.lineWidth = 1.8;
        ctx.beginPath(); ctx.moveTo(px, y0); ctx.lineTo(px, tip - dir * 6); ctx.stroke();
        ctx.beginPath();
        ctx.moveTo(px, tip);
        ctx.lineTo(px - 4, tip - dir * 9);
        ctx.lineTo(px + 4, tip - dir * 9);
        ctx.closePath(); ctx.fill();
        if (a.label) {
          ctx.font = c.labelFont;
          ctx.textAlign = 'center';
          ctx.textBaseline = 'middle';
          ctx.fillText(a.label, px, area.bottom + c.labelDy);
        }
      });

      // outer frame
      if (c.frame) {
        ctx.strokeStyle = c.frame.color;
        ctx.lineWidth = c.frame.width;
        ctx.strokeRect(c.frame.x, c.frame.y, c.frame.w, c.frame.h);
      }

      // legend (one entry per case)
      const L = c.legend;
      const seen = new Set(), items = [];
      chart.data.datasets.forEach(d => { if (!seen.has(d.label)) { seen.add(d.label); items.push(d); } });
      ctx.fillStyle = '#fff';
      ctx.fillRect(L.x, L.y, L.w, L.h);
      ctx.strokeStyle = '#c9c9c9';
      ctx.lineWidth = 1;
      ctx.strokeRect(L.x + 0.5, L.y + 0.5, L.w, L.h);
      ctx.font = L.font;
      ctx.textAlign = 'left';
      ctx.textBaseline = 'alphabetic';
      let cx = L.x + L.pad;
      items.forEach(d => {
        ctx.strokeStyle = d.legendColor || d.borderColor;
        ctx.lineWidth = 1.6;
        ctx.beginPath(); ctx.moveTo(cx, L.lineY); ctx.lineTo(cx + L.line, L.lineY); ctx.stroke();
        cx += L.line + L.gap;
        ctx.fillStyle = '#151515';
        ctx.fillText(d.label, cx, L.textY);
        cx += ctx.measureText(d.label).width + L.sep;
      });

      // chart title
      ctx.fillStyle = '#151515';
      ctx.font = c.title.font;
      ctx.textAlign = 'left';
      ctx.textBaseline = 'alphabetic';
      ctx.fillText(c.title.text, c.title.x, c.title.y);

      // axis titles
      ctx.fillStyle = '#2e2e2e';
      ctx.font = c.xTitle.font;
      ctx.textAlign = c.xTitle.align;
      ctx.textBaseline = 'middle';
      ctx.fillText(c.xTitle.text, c.xTitle.x, c.xTitle.y);

      ctx.translate(c.yTitle.x, c.yTitle.y);
      ctx.rotate(-Math.PI / 2);
      ctx.font = c.yTitle.font;
      ctx.textAlign = 'center';
      ctx.textBaseline = 'middle';
      ctx.fillText(c.yTitle.text, 0, 0);

      ctx.restore();
    }
  };
}

function yScale(stackWeight, weight, ticks, size, width) {
  return {
    type: 'linear', position: 'left', stack: 'panel', stackWeight, weight,
    min: -1.8, max: 6,
    afterBuildTicks: s => { s.ticks = ticks.map(v => ({value: v})); },
    afterFit: s => { s.width = width; },
    ticks: {font: {size, family: FONT}, color: TICK_COLOR, padding: 7, autoSkip: false, callback: v => String(v)},
    grid: {display: false, drawTicks: false},
    border: {display: false}
  };
}
function xScale(max, ticks, size, height, padding) {
  return {
    type: 'linear', position: 'bottom', min: 0, max,
    afterBuildTicks: s => { s.ticks = ticks.map(v => ({value: v})); },
    afterFit: s => { s.height = height; },
    ticks: {font: {size, family: FONT}, color: TICK_COLOR, padding, maxRotation: 0, autoSkip: false, callback: v => String(v)},
    grid: {display: false, drawTicks: false},
    border: {display: false}
  };
}

const baseOptions = {
  responsive: false,
  animation: false,
  devicePixelRatio: 1,
  events: [],
  elements: {point: {radius: 0}},
  plugins: {legend: {display: false}, tooltip: {enabled: false}, title: {display: false}}
};

// ---------------- full record ----------------
const longSets = [];
RECORDS.forEach((r, k) => {
  longSets.push({label: CASES[0], data: longPoints(r.a, r.aLong), yAxisID: AXES[k],
    borderColor: PURPLE, borderWidth: 1.5, tension: 0, order: 1});
  longSets.push({label: CASES[1], data: longPoints(r.b, r.bLong), yAxisID: AXES[k],
    borderColor: GREY_LONG, legendColor: '#d9d9d9', borderWidth: 2.4, tension: 0, order: 0});
});

new Chart(document.getElementById('longChart'), {
  type: 'line',
  data: {datasets: longSets},
  options: Object.assign({}, baseOptions, {
    layout: {padding: {left: 0, right: 1, top: 50, bottom: 0}},
    scales: {
      x: xScale(LONG_END, LONG_X_TICKS, 22, 61, 13),
      yN: yScale(122, 3, LONG_Y_TICKS, 21, 62),
      yP: yScale(138, 2, LONG_Y_TICKS, 21, 62),
      yS: yScale(129, 1, LONG_Y_TICKS, 21, 62)
    }
  }),
  plugins: [makeDecor({
    xTicks: LONG_X_TICKS, yTicks: LONG_Y_TICKS, tickLen: 6,
    nameFont: font(19.5), nameX: 966, nameDy: [12, 12, 12],
    boxTop: 0,
    boxes: [{from: -10, to: 225, color: RED}],
    dashes: [{at: 100, color: RED}],
    arrows: [{at: 120, from: 2, to: 47, color: RED}],
    labelFont: font(18), labelDy: 0,
    legend: {x: 62, y: 8, w: 264, h: 42, pad: 1, font: font(27.5), line: 19, gap: 2, sep: 6, lineY: 29, textY: 41},
    title: {text: 'Heave Motion Responses Comparison', x: 347, y: 41, font: font(27.5)},
    xTitle: {text: 'Time (s)', x: 494, y: 473, font: font(21), align: 'center'},
    yTitle: {text: 'Heave Amplitude (m)', x: 24, y: 256, font: font(22)}
  })]
});

// ---------------- first 200 s ----------------
const zoomSets = [];
RECORDS.forEach((r, k) => {
  zoomSets.push({label: CASES[0], data: zoomPoints(r.a), yAxisID: AXES[k],
    borderColor: PURPLE, borderWidth: 1.8, tension: 0.3, order: 1});
  zoomSets.push({label: CASES[1], data: zoomPoints(r.b), yAxisID: AXES[k],
    borderColor: GREY_ZOOM, borderWidth: 1.8, tension: 0.3, order: 0});
});

new Chart(document.getElementById('zoomChart'), {
  type: 'line',
  data: {datasets: zoomSets},
  options: Object.assign({}, baseOptions, {
    layout: {padding: {left: 0, right: 28, top: 55, bottom: 0}},
    scales: {
      x: xScale(ZOOM_END, ZOOM_X_TICKS, 20, 60, 10),
      yN: yScale(110, 3, ZOOM_Y_TICKS, 19.5, 132),
      yP: yScale(122, 2, ZOOM_Y_TICKS, 19.5, 132),
      yS: yScale(115, 1, ZOOM_Y_TICKS, 19.5, 132)
    }
  }),
  plugins: [makeDecor({
    xTicks: ZOOM_X_TICKS, yTicks: ZOOM_Y_TICKS, tickLen: 6,
    nameFont: font(17.5), nameX: 937, nameDy: [15, 15, 13],
    boxTop: -1,
    boxes: [
      {from: 0, to: 33, color: RED},
      {from: 33.7, to: 99.3, color: OLIVE},
      {from: 101, to: 123.5, color: RED}
    ],
    arrows: [
      {at: 5, from: 30, to: 2, color: RED, label: 'Numerical Transient Phase'},
      {at: 57, from: 30, to: 2, color: OLIVE, label: 'Steady State'},
      {at: 123, from: 30, to: 2, color: RED, label: 'Transient Phase After Lines Dissconected'}
    ],
    labelFont: font(18), labelDy: 43,
    frame: {x: 30.5, y: 10, w: 934, h: 448.5, color: '#ff0000', width: 5},
    legend: {x: 133, y: 24, w: 194, h: 26, pad: 1, font: font(19), line: 14, gap: 5, sep: 5, lineY: 39, textY: 45},
    title: {text: 'First 200s Heave Motion Response', x: 365, y: 43, font: font(26.5)},
    xTitle: {text: 'Time (s)', x: 845, y: 421, font: font(19.5), align: 'left'},
    yTitle: {text: 'Heave Amplitude (m)', x: 93, y: 209, font: font(19.5)}
  })]
});
</script>
</body>
</html>
